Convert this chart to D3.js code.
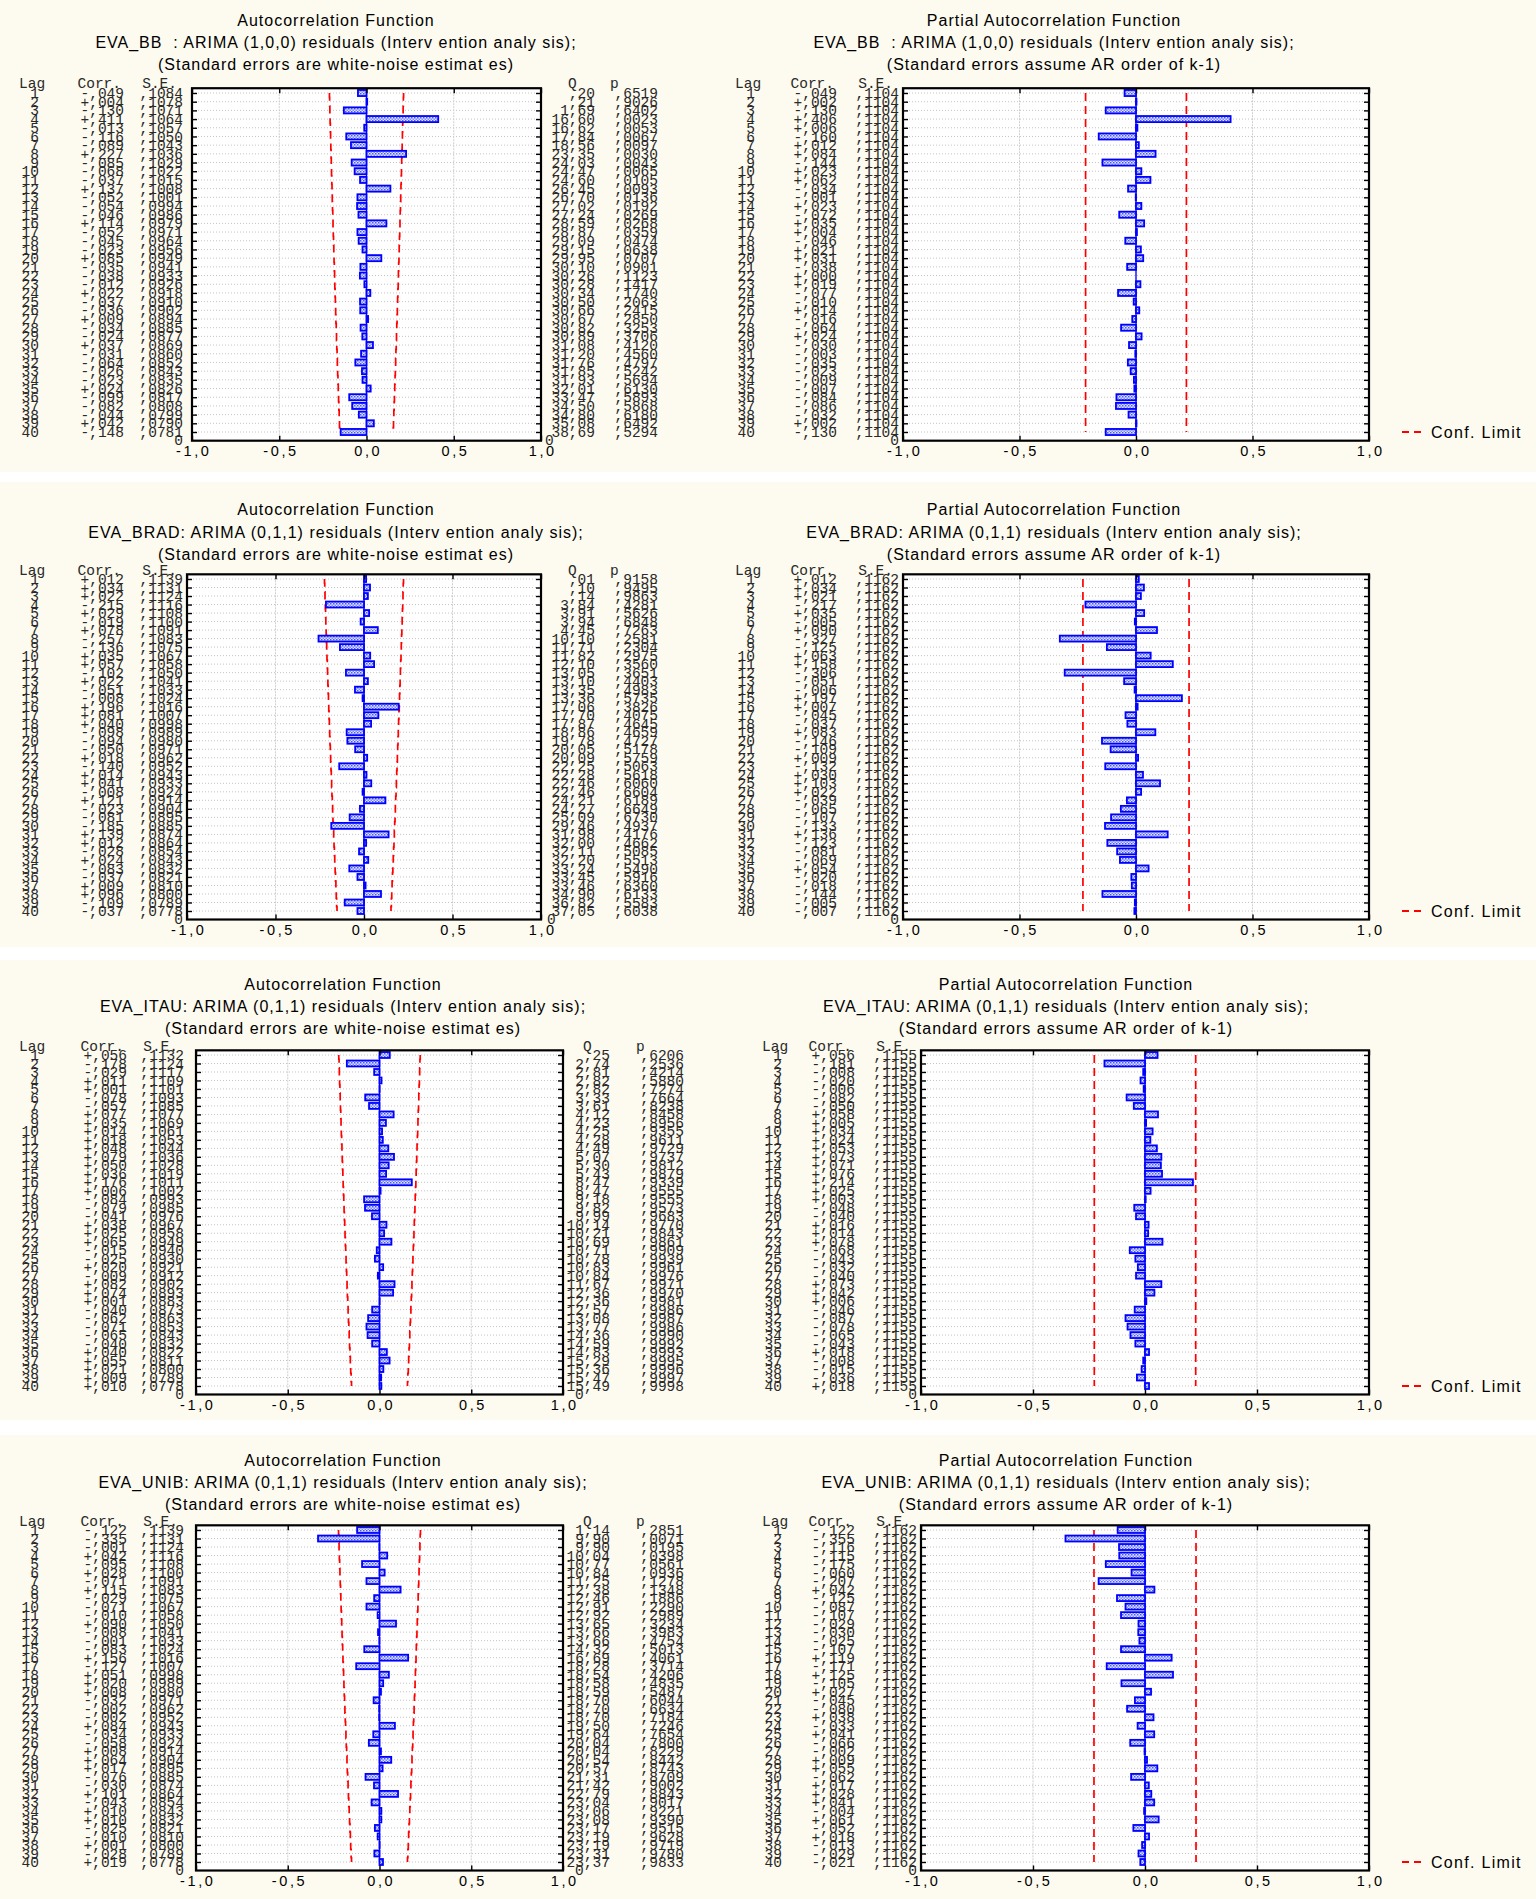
<!DOCTYPE html>
<html><head><meta charset="utf-8">
<script src="https://cdn.jsdelivr.net/npm/d3@7"></script>
<style>
body{margin:0;background:#fff}
svg{display:block}
text{white-space:pre}
</style>
</head><body>
<svg id="c" width="1536" height="1899"></svg>
<script>
// ---------------- DATA ----------------
const lags = d3.range(1, 41);
const xTickValues = [-1, -0.5, 0, 0.5, 1];
const xTickLabels = ["-1,0", "-0,5", "0,0", "0,5", "1,0"];

const seriesTitles = [
  "EVA_BB  : ARIMA (1,0,0) residuals (Interv ention analy sis);",
  "EVA_BRAD: ARIMA (0,1,1) residuals (Interv ention analy sis);",
  "EVA_ITAU: ARIMA (0,1,1) residuals (Interv ention analy sis);",
  "EVA_UNIB: ARIMA (0,1,1) residuals (Interv ention analy sis);"
];
const acfTitle = "Autocorrelation Function";
const pacfTitle = "Partial Autocorrelation Function";
const acfNote = "(Standard errors are white-noise estimat es)";
const pacfNote = "(Standard errors assume AR order of k-1)";
const legendLabel = "Conf. Limit";

// EVA_BB
const bbAcf = [-.049,.004,-.130,.411,-.013,-.116,-.089,.227,-.085,-.068,-.037,.137,-.052,-.054,-.046,.114,-.052,-.045,-.023,.085,-.035,-.038,-.012,.022,-.037,-.036,.009,-.034,-.024,.037,-.031,-.064,-.026,-.023,.024,-.099,-.082,-.044,.042,-.148];
const bbSE = [.1084,.1078,.1071,.1064,.1057,.1050,.1043,.1036,.1029,.1022,.1015,.1008,.1001,.0994,.0986,.0979,.0971,.0964,.0956,.0949,.0941,.0933,.0926,.0918,.0910,.0902,.0894,.0885,.0877,.0869,.0860,.0852,.0843,.0835,.0826,.0817,.0808,.0799,.0790,.0781];
const bbQ = [0.20,0.21,1.69,16.60,16.62,17.84,18.56,23.35,24.03,24.47,24.60,26.45,26.70,27.02,27.24,28.59,28.87,29.09,29.15,29.95,30.10,30.26,30.28,30.34,30.50,30.66,30.67,30.82,30.89,31.08,31.20,31.76,31.85,31.93,32.01,33.47,34.50,34.80,35.08,38.69];
const bbP = [.6519,.9026,.6402,.0023,.0053,.0067,.0097,.0030,.0043,.0065,.0105,.0093,.0136,.0192,.0269,.0268,.0359,.0474,.0638,.0707,.0901,.1123,.1417,.1740,.2063,.2415,.2850,.3253,.3706,.4120,.4560,.4797,.5242,.5694,.6130,.5893,.5868,.6180,.6492,.5294];
const bbPacf = [-.049,.002,-.130,.406,.006,-.160,.012,.084,-.144,.023,.062,-.034,-.001,.023,-.072,.035,.004,-.046,.021,.031,-.038,.000,.019,-.077,-.010,.014,-.016,-.064,.024,-.030,-.003,-.035,-.023,-.009,-.007,-.084,-.086,-.032,.002,-.130];
const bbPacfSE = .1104;

// EVA_BRAD
const bradAcf = [.012,.034,.022,-.215,.029,-.019,.078,-.257,-.136,.035,.057,-.102,.022,-.051,-.008,.196,.081,.040,-.098,-.094,-.050,.018,-.140,.014,.041,-.008,.121,-.023,-.081,-.185,.139,.012,-.028,.024,-.083,-.037,.009,.096,-.109,-.037];
const bradSE = [.1139,.1131,.1124,.1116,.1108,.1100,.1091,.1083,.1075,.1067,.1058,.1050,.1041,.1033,.1024,.1016,.1007,.0998,.0989,.0980,.0971,.0962,.0952,.0943,.0933,.0924,.0914,.0904,.0895,.0885,.0874,.0864,.0854,.0843,.0832,.0821,.0810,.0800,.0789,.0778];
const bradQ = [0.01,0.10,0.14,3.84,3.91,3.94,4.45,10.10,11.71,11.82,12.10,13.05,13.10,13.35,13.36,17.06,17.70,17.87,18.86,19.78,20.05,20.09,22.25,22.28,22.46,22.46,24.21,24.27,25.09,29.46,31.98,32.00,32.11,32.20,33.24,33.45,33.46,34.90,36.82,37.05];
const bradP = [.9158,.9495,.9863,.4281,.5626,.6848,.7263,.2581,.2304,.2975,.3560,.3651,.4403,.4983,.5735,.3826,.4075,.4645,.4659,.4727,.5178,.5759,.5063,.5618,.6060,.6604,.6189,.6649,.6730,.4937,.4176,.4662,.5085,.5513,.5490,.5916,.6360,.6133,.5583,.6038];
const bradPacf = [.012,.034,.021,-.217,.035,-.005,.090,-.327,-.125,.063,.158,-.306,-.051,-.006,.197,.007,-.045,-.037,.083,-.146,-.109,.009,-.132,.030,.103,.022,-.039,-.065,-.107,-.133,.136,-.123,-.081,-.069,.054,-.020,-.018,-.144,-.005,-.007];
const bradPacfSE = .1162;

// EVA_ITAU
const itauAcf = [.056,-.178,-.029,.011,.001,-.078,-.057,.077,.035,.014,.018,.048,.079,.050,.036,.176,.006,-.084,-.079,-.041,.038,.025,.065,-.015,-.025,.020,-.009,.082,.074,.001,-.040,-.062,-.071,-.065,-.040,.040,.055,.021,.009,.010];
const itauSE = [.1132,.1124,.1117,.1109,.1101,.1093,.1085,.1077,.1069,.1061,.1053,.1044,.1036,.1028,.1019,.1011,.1002,.0993,.0985,.0976,.0967,.0958,.0949,.0940,.0930,.0921,.0912,.0902,.0893,.0883,.0873,.0863,.0853,.0843,.0832,.0822,.0811,.0800,.0789,.0778];
const itauQ = [0.25,2.74,2.81,2.82,2.82,3.33,3.61,4.12,4.23,4.25,4.28,4.49,5.07,5.30,5.43,8.47,8.47,9.18,9.82,9.99,10.14,10.21,10.69,10.71,10.78,10.83,10.84,11.67,12.36,12.36,12.57,13.08,13.77,14.36,14.59,14.83,15.29,15.36,15.47,15.49];
const itauP = [.6206,.2536,.4214,.5880,.7274,.7664,.8238,.8458,.8956,.9355,.9611,.9729,.9737,.9812,.9879,.9339,.9555,.9555,.9573,.9683,.9770,.9843,.9861,.9909,.9939,.9961,.9976,.9971,.9970,.9981,.9986,.9987,.9986,.9990,.9992,.9993,.9995,.9996,.9997,.9998];
const itauPacf = [.056,-.181,-.008,-.020,-.006,-.082,-.050,.058,.005,.034,.024,.053,.073,.071,.076,.214,.025,.003,-.048,-.040,.016,.014,.078,-.068,-.043,-.032,-.040,.073,.042,.006,-.046,-.087,-.078,-.065,-.043,.018,-.008,-.015,-.036,.018];
const itauPacfSE = .1155;

// EVA_UNIB
const unibAcf = [-.122,-.335,-.001,.042,-.095,.028,-.071,.115,-.029,-.071,-.010,.090,-.008,-.001,-.083,.156,-.127,.051,.020,.008,-.032,-.002,-.002,.084,-.034,-.058,.008,.064,.017,-.076,-.030,.101,-.043,.010,.010,-.025,-.010,.001,-.028,.019];
const unibSE = [.1139,.1131,.1124,.1116,.1108,.1100,.1091,.1083,.1075,.1067,.1058,.1050,.1041,.1033,.1024,.1016,.1007,.0998,.0989,.0980,.0971,.0962,.0952,.0943,.0933,.0924,.0914,.0904,.0895,.0885,.0874,.0864,.0854,.0843,.0832,.0821,.0810,.0800,.0789,.0778];
const unibQ = [1.14,9.90,9.90,10.04,10.77,10.84,11.25,12.38,12.46,12.91,12.92,13.65,13.66,13.66,14.32,16.69,18.28,18.54,18.58,18.59,18.70,18.70,18.70,19.50,19.64,20.04,20.04,20.54,20.57,21.31,21.42,22.79,23.04,23.06,23.08,23.17,23.19,23.19,23.31,23.37];
const unibP = [.2851,.0071,.0195,.0398,.0561,.0936,.1278,.1348,.1886,.2290,.2989,.3234,.3983,.4754,.5013,.4061,.3714,.4206,.4835,.5487,.6044,.6634,.7184,.7246,.7654,.7800,.8229,.8442,.8743,.8709,.9002,.8843,.9017,.9221,.9390,.9515,.9628,.9719,.9780,.9833];
const unibPacf = [-.122,-.355,-.116,-.115,-.175,-.060,-.207,.042,-.125,-.087,-.107,-.029,-.030,-.025,-.107,.119,-.171,.125,-.105,.027,-.045,-.080,.038,-.033,.041,-.066,-.002,.009,.055,-.062,.017,.028,.041,-.004,.061,-.052,.018,-.013,-.029,-.021];
const unibPacfSE = .1162;

const rowsData = [
  {acf:bbAcf, se:bbSE, q:bbQ, p:bbP, pacf:bbPacf, pse:bbPacfSE},
  {acf:bradAcf, se:bradSE, q:bradQ, p:bradP, pacf:bradPacf, pse:bradPacfSE},
  {acf:itauAcf, se:itauSE, q:itauQ, p:itauP, pacf:itauPacf, pse:itauPacfSE},
  {acf:unibAcf, se:unibSE, q:unibQ, p:unibP, pacf:unibPacf, pse:unibPacfSE}
];

// ---------------- LAYOUT ----------------
const L1 = {lagR:39, corrR:124, seR:183, x0:192, x1:541, qR:595, pR:658, tc:336, zeroX:545};
const L2 = {lagR:39, corrR:124, seR:183, x0:187, x1:541, qR:595, pR:658, tc:336, zeroX:547};
const Rwide = {lagR:755, corrR:837, seR:899, x0:903, x1:1369, tc:1054};
const Lnar = {lagR:39, corrR:127, seR:184, x0:196, x1:563, qR:610, pR:684, tc:343, zeroX:575};
const Rnar = {lagR:782, corrR:855, seR:917, x0:921, x1:1369, tc:1066};
const layout = [
  {bg:[0,472], y1:93, y40:432, t:[20.5,42.5,64.5], L:L1, R:Rwide},
  {bg:[482,947], y1:579, y40:911, t:[509,532,554], L:L2, R:Rwide},
  {bg:[960,1420], y1:1055, y40:1386, t:[984,1006,1028], L:Lnar, R:Rnar},
  {bg:[1435,1899], y1:1530, y40:1862, t:[1460,1482,1504], L:Lnar, R:Rnar}
];
const CREAM = "#fdfaef";
const MONO = "'Liberation Mono','Courier New',monospace";
const SANS = "'Liberation Sans',Arial,sans-serif";

const fmtCorr = v => (v < 0 ? "-" : "+") + "," + String(Math.round(Math.abs(v) * 1000)).padStart(3, "0");
const fmt4 = v => "," + String(Math.round(v * 10000)).padStart(4, "0");
const fmtQ = v => { const s = v.toFixed(2).replace(".", ","); return s.startsWith("0") ? s.slice(1) : s; };

const svg = d3.select("#c");
const defs = svg.append("defs");
const pat = defs.append("pattern").attr("id", "hatch").attr("patternUnits", "userSpaceOnUse")
  .attr("width", 3).attr("height", 3);
pat.append("rect").attr("width", 3).attr("height", 3).attr("fill", "#dfe3ff");
pat.append("rect").attr("x", 0).attr("y", 0).attr("width", 1.5).attr("height", 1.5).attr("fill", "#4a5cf0");
pat.append("rect").attr("x", 1.5).attr("y", 1.5).attr("width", 1.5).attr("height", 1.5).attr("fill", "#7f8cf4");

svg.append("rect").attr("width", 1536).attr("height", 1899).attr("fill", "#ffffff");

function drawPanel(row, P, kind, d) {
  const g = svg.append("g");
  const y = d3.scaleLinear().domain([1, 40]).range([row.y1, row.y40]);
  const x = d3.scaleLinear().domain([-1, 1]).range([P.x0, P.x1]);
  const step = y(2) - y(1);
  const top = y(0.45), bottom = y(41);
  const corr = kind === "acf" ? d.acf : d.pacf;

  // titles
  const titles = [kind === "acf" ? acfTitle : pacfTitle, seriesTitles[row.idx], kind === "acf" ? acfNote : pacfNote];
  titles.forEach((t, i) => {
    g.append("text").attr("x", P.tc).attr("y", row.t[i]).attr("dy", "0.35em")
      .attr("text-anchor", "middle").attr("font-family", SANS).attr("font-size", 16)
      .attr("letter-spacing", 1).attr("fill", "#000").text(t);
  });

  // plot area
  g.append("rect").attr("x", P.x0).attr("y", top).attr("width", P.x1 - P.x0)
    .attr("height", bottom - top).attr("fill", "#fff");

  // grid
  g.append("g").selectAll("line").data(lags).join("line")
    .attr("x1", P.x0).attr("x2", P.x1).attr("y1", l => y(l)).attr("y2", l => y(l))
    .attr("stroke", "#c4c4c4").attr("stroke-width", 1).attr("stroke-dasharray", "1,2");
  g.append("g").selectAll("line").data([-0.5, 0, 0.5]).join("line")
    .attr("x1", v => x(v)).attr("x2", v => x(v)).attr("y1", top).attr("y2", bottom)
    .attr("stroke", "#cfcfcf").attr("stroke-width", 1).attr("stroke-dasharray", "2,1");

  // confidence limits
  const red = {stroke: "#ff0000", w: 1.7, dash: "8,5"};
  const lineGen = d3.line().x(p => x(p[0])).y(p => y(p[1]));
  [1, -1].forEach(sgn => {
    let pts;
    if (kind === "acf") {
      pts = [];
      lags.forEach((l, i) => {
        const c = sgn * 1.96 * d.se[i];
        pts.push([c, i === 0 ? l : l - 0.5]);
        pts.push([c, i === lags.length - 1 ? l : l + 0.5]);
      });
    } else {
      const c = sgn * 1.96 * d.pse;
      pts = [[c, 1], [c, 40]];
    }
    g.append("path").attr("d", lineGen(pts)).attr("fill", "none")
      .attr("stroke", red.stroke).attr("stroke-width", red.w).attr("stroke-dasharray", red.dash);
  });

  // zero line
  g.append("line").attr("x1", x(0)).attr("x2", x(0)).attr("y1", y(1)).attr("y2", y(40))
    .attr("stroke", "#0000ff").attr("stroke-width", 1.3);

  // bars
  const bh = step * 0.7;
  g.append("g").selectAll("rect").data(lags).join("rect")
    .attr("x", (l, i) => Math.min(x(0), x(corr[i])))
    .attr("width", (l, i) => Math.abs(x(corr[i]) - x(0)))
    .attr("y", l => y(l) - bh / 2).attr("height", bh)
    .attr("fill", "url(#hatch)").attr("stroke", "#0000ff").attr("stroke-width", 1.8);

  // axes / ticks
  const ax = g.append("g").attr("font-family", SANS);
  ax.append("g").attr("transform", `translate(0,${bottom})`)
    .call(d3.axisBottom(x).tickValues(xTickValues).tickFormat((v, i) => xTickLabels[i])
      .tickSizeInner(-5).tickSizeOuter(0).tickPadding(5))
    .call(s => s.selectAll("text").attr("font-size", 14.5).attr("letter-spacing", 2.6)
      .attr("dx", 1.3).attr("fill", "#000"));
  ax.append("g").attr("transform", `translate(0,${top})`)
    .call(d3.axisTop(x).tickValues(xTickValues).tickFormat("").tickSizeInner(-5).tickSizeOuter(0));
  ax.append("g").attr("transform", `translate(${P.x0},0)`)
    .call(d3.axisLeft(y).tickValues(lags).tickFormat("").tickSizeInner(-5).tickSizeOuter(0));
  ax.append("g").attr("transform", `translate(${P.x1},0)`)
    .call(d3.axisRight(y).tickValues(lags).tickFormat("").tickSizeInner(-5).tickSizeOuter(0));
  ax.selectAll(".tick line").attr("stroke", "#000").attr("stroke-width", 1.4);
  ax.selectAll(".domain").attr("stroke", "none");
  g.append("rect").attr("x", P.x0).attr("y", top).attr("width", P.x1 - P.x0)
    .attr("height", bottom - top).attr("fill", "none").attr("stroke", "#000").attr("stroke-width", 2.2);

  // text columns
  const tg = g.append("g").attr("font-family", MONO).attr("font-size", 14.5).attr("fill", "#2a2a2a");
  const hy = y(0) - 1;
  tg.append("text").attr("x", P.lagR - 20).attr("y", hy).attr("dy", "0.35em").text("Lag");
  tg.append("text").attr("x", P.corrR - 3).attr("y", hy).attr("dy", "0.35em").attr("text-anchor", "end").text("Corr.");
  tg.append("text").attr("x", P.seR - 6).attr("y", hy).attr("dy", "0.35em").attr("text-anchor", "end").text("S.E.");
  const rowsG = tg.append("g").selectAll("g").data(lags).join("g");
  rowsG.append("text").attr("x", P.lagR).attr("y", l => y(l)).attr("dy", "0.35em").attr("text-anchor", "end").text(l => l);
  rowsG.append("text").attr("x", P.corrR).attr("y", l => y(l)).attr("dy", "0.35em").attr("text-anchor", "end")
    .text((l, i) => fmtCorr(corr[i]));
  rowsG.append("text").attr("x", P.seR).attr("y", l => y(l)).attr("dy", "0.35em").attr("text-anchor", "end")
    .text((l, i) => fmt4(kind === "acf" ? d.se[i] : d.pse));
  tg.append("text").attr("x", P.seR).attr("y", y(40.9)).attr("dy", "0.35em").attr("text-anchor", "end").text("0");

  if (kind === "acf") {
    tg.append("text").attr("x", P.qR - 27).attr("y", hy).attr("dy", "0.35em").text("Q");
    tg.append("text").attr("x", P.pR - 48).attr("y", hy).attr("dy", "0.35em").text("p");
    rowsG.append("text").attr("x", P.qR).attr("y", l => y(l)).attr("dy", "0.35em").attr("text-anchor", "end")
      .text((l, i) => fmtQ(d.q[i]));
    rowsG.append("text").attr("x", P.pR).attr("y", l => y(l)).attr("dy", "0.35em").attr("text-anchor", "end")
      .text((l, i) => fmt4(d.p[i]));
    tg.append("text").attr("x", P.zeroX).attr("y", y(40.9)).attr("dy", "0.35em").text("0");
  } else {
    // legend
    const ly = y(40);
    g.append("line").attr("x1", 1402).attr("x2", 1422).attr("y1", ly).attr("y2", ly)
      .attr("stroke", red.stroke).attr("stroke-width", 2).attr("stroke-dasharray", "7,5");
    g.append("text").attr("x", 1431).attr("y", ly).attr("dy", "0.35em").attr("font-family", SANS)
      .attr("font-size", 16).attr("letter-spacing", 1.3).attr("fill", "#000").text(legendLabel);
  }
}

layout.forEach((row, i) => {
  row.idx = i;
  svg.append("rect").attr("x", 0).attr("y", row.bg[0]).attr("width", 1536)
    .attr("height", row.bg[1] - row.bg[0]).attr("fill", CREAM);
  drawPanel(row, row.L, "acf", rowsData[i]);
  drawPanel(row, row.R, "pacf", rowsData[i]);
});
</script>
</body></html>
